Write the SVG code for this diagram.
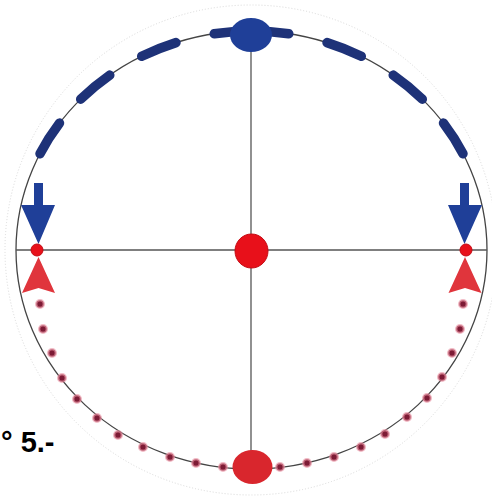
<svg xmlns="http://www.w3.org/2000/svg" width="492" height="498" viewBox="0 0 492 498">
<style>
.axis{stroke:#555;stroke-width:1.3;fill:none}
.rim{stroke:#444;stroke-width:1.3;fill:none}
.halo{stroke:#d9d9d9;stroke-width:1;stroke-dasharray:1 2;fill:none}
.dash{stroke:#1e3278;stroke-width:9.5;stroke-linecap:round;fill:none}
.blue{fill:#1f3f98}
.red{fill:#e8101a;stroke:#c40a12;stroke-width:1}
.redarrow{fill:#e0353c}
.dot{fill:#7d1b35;stroke:#e890a0;stroke-width:2.5;stroke-opacity:0.6}
.lbl{font-family:"Liberation Sans",Arial,sans-serif;font-weight:bold;font-size:29px;fill:#000}
</style>
<rect width="492" height="498" fill="#fff"/>
<g id="circle">
<ellipse class="halo" cx="251" cy="250" rx="246" ry="245"/>
<ellipse class="rim" cx="251.5" cy="250" rx="235.5" ry="219"/>
<line class="axis" x1="16" y1="250" x2="487" y2="250"/>
<line class="axis" x1="251" y1="31" x2="251" y2="469"/>
</g>
<g id="connectors">
<path class="dash" d="M214.2 33.8 A235.5 219 0 0 1 288.8 33.8"/>
<path class="dash" d="M141.7 56.3 A235.5 219 0 0 1 176 42.6"/>
<path class="dash" d="M80.7 99.2 A235.5 219 0 0 1 109.8 75.1"/>
<path class="dash" d="M40 153.7 A235.5 219 0 0 1 59.5 123.1"/>
<path class="dash" d="M327 42.6 A235.5 219 0 0 1 361.3 56.3"/>
<path class="dash" d="M393.2 75.1 A235.5 219 0 0 1 422.3 99.2"/>
<path class="dash" d="M443.5 123.1 A235.5 219 0 0 1 463 153.7"/>
<path class="blue" d="M34 183 H43 V205 H55 L38.5 244 L21 205 H34 Z"/>
<path class="blue" d="M460 183 H469 V205 H482 L464.5 244 L448 205 H460 Z"/>
<path class="redarrow" d="M38.5 257 L55 293 L38.5 288 L22 293 Z"/>
<path class="redarrow" d="M465 257 L481.5 293 L465 288 L448.5 293 Z"/>
<g id="dots">
<circle class="dot" cx="40" cy="304" r="3.8"/>
<circle class="dot" cx="43" cy="329" r="3.8"/>
<circle class="dot" cx="52" cy="353" r="3.8"/>
<circle class="dot" cx="62" cy="378" r="3.8"/>
<circle class="dot" cx="77" cy="399" r="3.8"/>
<circle class="dot" cx="97" cy="418" r="3.8"/>
<circle class="dot" cx="118" cy="435" r="3.8"/>
<circle class="dot" cx="143" cy="447" r="3.8"/>
<circle class="dot" cx="170" cy="457" r="3.8"/>
<circle class="dot" cx="196" cy="463" r="3.8"/>
<circle class="dot" cx="223" cy="467" r="3.8"/>
<circle class="dot" cx="463" cy="304" r="3.8"/>
<circle class="dot" cx="460" cy="329" r="3.8"/>
<circle class="dot" cx="452" cy="353" r="3.8"/>
<circle class="dot" cx="442" cy="377" r="3.8"/>
<circle class="dot" cx="427" cy="398" r="3.8"/>
<circle class="dot" cx="407" cy="417" r="3.8"/>
<circle class="dot" cx="385" cy="434" r="3.8"/>
<circle class="dot" cx="361" cy="447" r="3.8"/>
<circle class="dot" cx="334" cy="457" r="3.8"/>
<circle class="dot" cx="307" cy="463" r="3.8"/>
<circle class="dot" cx="280" cy="467" r="3.8"/>
</g>
</g>
<g id="top"><ellipse class="blue" cx="251" cy="35" rx="21" ry="17"/></g>
<g id="bottom"><ellipse cx="252.5" cy="467" rx="20" ry="17" fill="#d9262d"/></g>
<g id="center"><ellipse class="red" cx="251.5" cy="251" rx="16.5" ry="17"/></g>
<g id="left"><circle class="red" cx="37" cy="250" r="6"/></g>
<g id="right"><circle class="red" cx="466" cy="250" r="6"/></g>
<text class="lbl" x="1" y="452">° 5.-</text>
</svg>
